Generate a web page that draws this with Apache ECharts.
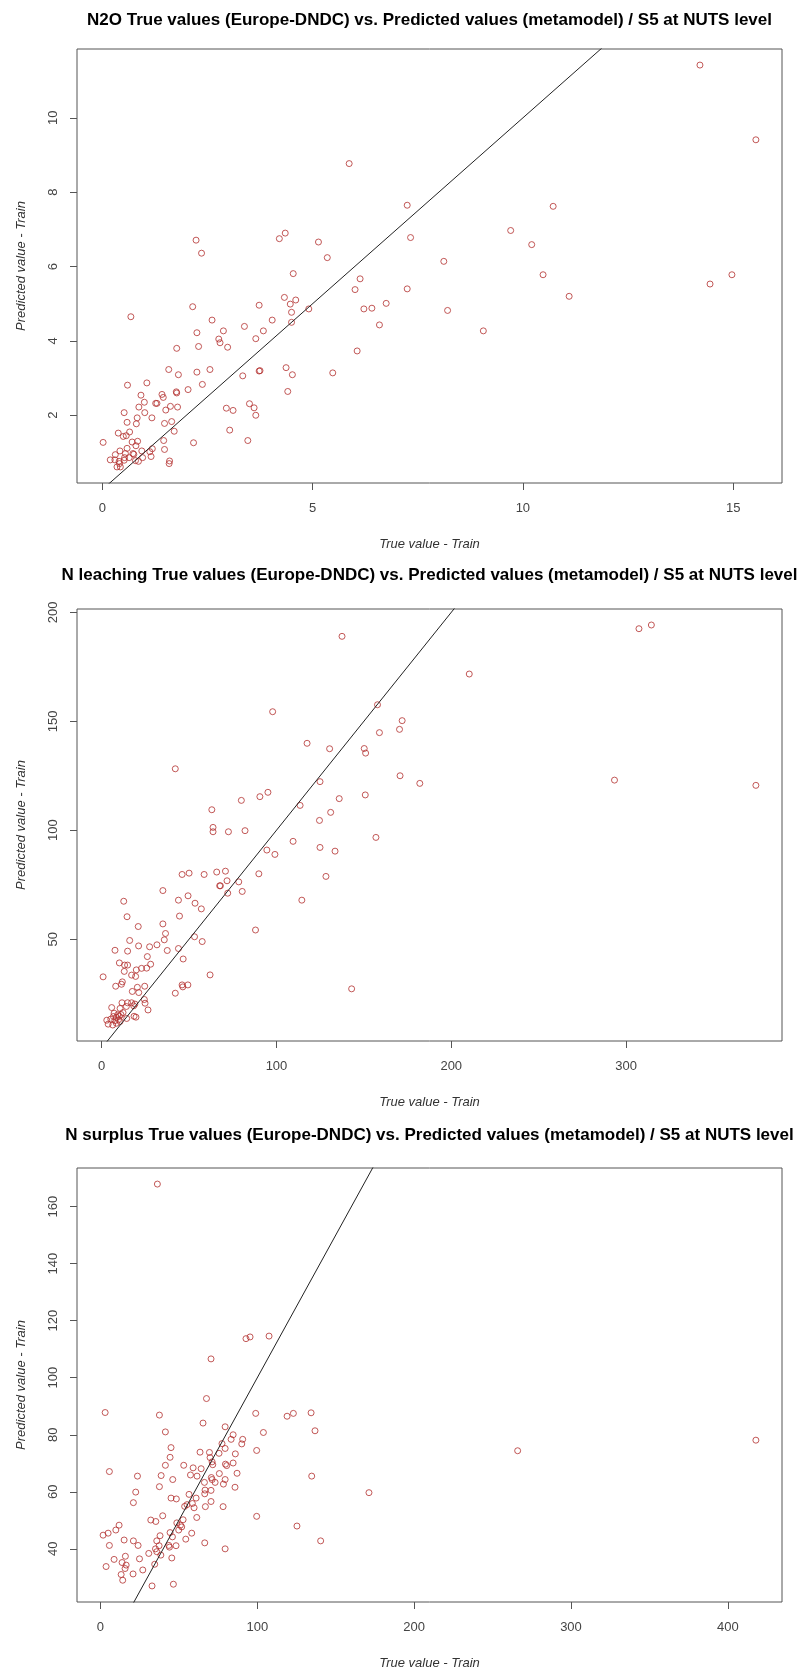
<!DOCTYPE html>
<html>
<head>
<meta charset="utf-8">
<script src="https://cdn.jsdelivr.net/npm/echarts@6/dist/echarts.min.js"></script>
<style>
  html, body { margin: 0; padding: 0; background: #fff; }
  #chart { width: 798px; height: 1673px; }
</style>
</head>
<body>
<div id="chart"></div>
<script>
// ---- Titles and axis names ----
const panelTitles = [
  'N2O True values (Europe-DNDC) vs. Predicted values (metamodel) / S5 at NUTS level',
  'N leaching True values (Europe-DNDC) vs. Predicted values (metamodel) / S5 at NUTS level',
  'N surplus True values (Europe-DNDC) vs. Predicted values (metamodel) / S5 at NUTS level'
];
const xAxisName = 'True value - Train';
const yAxisName = 'Predicted value - Train';

// ---- Tick labels ----
const n2oXTicks = [0, 5, 10, 15];
const n2oYTicks = [2, 4, 6, 8, 10];
const leachXTicks = [0, 100, 200, 300];
const leachYTicks = [50, 100, 150, 200];
const surplusXTicks = [0, 100, 200, 300, 400];
const surplusYTicks = [40, 60, 80, 100, 120, 140, 160];

// ---- N2O: true (Europe-DNDC) and predicted (metamodel) ----
const n2oTrue = [
  2.23, 2.36, 4.21, 4.35, 5.14, 5.35, 5.87, 7.25, 7.33,
  4.54, 6.13, 6.01, 7.25, 4.33, 4.47, 4.60, 3.73, 2.15, 4.91, 6.22, 6.41, 6.75, 4.50, 0.68,
  2.61, 4.04, 4.50, 6.59, 3.38, 2.88, 2.25, 3.83, 2.77, 3.65, 2.80, 2.29, 2.98, 1.77, 6.06,
  1.58, 2.56, 2.25, 1.81, 3.34, 3.73, 3.75, 4.37, 4.52, 5.48, 0.60, 1.06, 2.38, 0.92, 1.42,
  1.76, 1.77, 2.04, 1.45, 1.00, 1.27, 1.30, 0.87, 1.62, 1.79, 1.51, 0.52, 1.01, 0.83, 1.18,
  2.95, 3.11, 3.50, 3.61, 3.65, 4.41, 0.59, 0.81, 1.48, 1.65, 0.38, 0.57, 0.65, 0.50, 1.71,
  3.03, 0.02, 0.71, 0.84, 1.46, 2.17, 3.46, 0.80, 0.59, 0.42, 0.94, 1.19, 1.13, 1.48, 0.31,
  0.55, 0.73, 0.75, 0.19, 0.30, 0.40, 0.52, 0.53, 0.79, 0.96, 1.16, 0.35, 0.43, 0.41, 0.64,
  1.60, 1.59, 0.86,
  14.21, 15.54, 10.72, 9.71, 10.21, 8.12, 10.48, 14.45, 14.97, 11.10, 8.21, 9.06
];
const n2oPred = [
  6.71, 6.36, 6.75, 6.90, 6.66, 6.24, 8.77, 7.65, 6.78,
  5.81, 5.67, 5.38, 5.40, 5.17, 4.99, 5.10, 4.96, 4.92, 4.86, 4.86, 4.88, 5.01, 4.77, 4.65,
  4.56, 4.56, 4.50, 4.43, 4.39, 4.27, 4.22, 4.27, 4.05, 4.06, 3.95, 3.85, 3.83, 3.80, 3.73,
  3.23, 3.23, 3.16, 3.09, 3.06, 3.19, 3.20, 3.28, 3.09, 3.14, 2.81, 2.87, 2.83, 2.54, 2.56,
  2.63, 2.60, 2.69, 2.48, 2.35, 2.32, 2.32, 2.22, 2.24, 2.22, 2.14, 2.07, 2.07, 1.93, 1.93,
  2.19, 2.13, 2.31, 2.20, 2.00, 2.64, 1.81, 1.77, 1.78, 1.83, 1.52, 1.45, 1.55, 1.43, 1.57,
  1.60, 1.27, 1.28, 1.30, 1.32, 1.26, 1.32, 1.18, 1.11, 1.04, 1.04, 1.10, 1.02, 1.08, 0.94,
  0.97, 0.97, 0.95, 0.80, 0.80, 0.76, 0.79, 0.86, 0.78, 0.86, 0.89, 0.61, 0.61, 0.70, 0.86,
  0.77, 0.70, 0.76,
  11.42, 9.41, 7.62, 6.97, 6.59, 6.14, 5.78, 5.53, 5.78, 5.20, 4.82, 4.27
];

// ---- N leaching: true and predicted ----
const leachTrue = [
  137.5, 97.8, 157.8, 171.9, 170.4, 158.9, 117.5, 130.4, 150.2, 151.0,
  170.7, 42.1, 124.9, 79.9, 90.5, 95.1, 135.9, 150.8, 113.5, 63.0, 63.7, 63.7, 72.5, 82.0,
  131.0, 124.6, 109.5, 94.5, 99.1, 124.9, 133.5, 156.9, 128.3, 50.0, 46.0, 58.6, 65.8, 70.8,
  89.9, 71.7, 78.4, 67.5, 67.9, 80.4, 72.1, 35.0, 12.6, 43.9, 49.4, 53.4, 57.0, 114.5, 14.5,
  44.5, 20.9, 35.0, 36.5, 35.8, 53.1, 57.5, 88.0, 16.0, 7.6, 14.8, 21.1, 27.4, 31.6, 37.5,
  43.9, 26.1, 46.6, 10.1, 14.8, 13.1, 28.0, 25.7, 22.8, 12.9, 19.8, 17.1, 19.4, 0.8, 62.0,
  11.8, 8.0, 11.3, 24.6, 46.0, 49.3, 46.4, 20.4, 17.5, 21.2, 24.4, 24.8, 42.1, 143.0, 11.6,
  14.8, 17.1, 19.0, 14.1, 18.3, 26.5, 5.7, 10.5, 12.2, 7.1, 9.2, 10.1, 8.4, 11.0, 18.5,
  19.6, 14.3, 2.9, 5.2, 7.5, 9.6, 3.7, 6.3, 8.4, 10.5, 6.7,
  307.4, 314.5, 210.3, 182.0, 293.4, 374.3
];
const leachPred = [
  189.0, 154.4, 157.6, 150.3, 146.3, 144.8, 139.9, 137.4, 137.5, 135.4,
  125.0, 128.2, 122.3, 113.7, 115.4, 117.4, 114.5, 116.2, 111.4, 109.4, 101.3, 99.3, 99.3, 99.8,
  108.2, 104.5, 94.9, 90.9, 88.9, 92.1, 90.4, 96.7, 78.8, 80.3, 79.7, 79.7, 80.8, 81.2,
  80.0, 76.8, 76.3, 74.5, 74.5, 71.9, 71.1, 72.3, 67.4, 67.9, 69.9, 66.5, 63.9, 67.9, 60.3,
  60.6, 55.8, 57.0, 52.6, 49.7, 51.1, 48.9, 54.2, 49.4, 44.9, 44.5, 46.9, 46.5, 47.4, 44.8,
  45.7, 42.0, 40.9, 39.1, 38.1, 38.1, 38.5, 36.7, 36.6, 35.2, 35.9, 33.5, 32.9, 32.7, 33.6,
  30.4, 28.4, 29.3, 28.4, 29.0, 29.0, 28.1, 27.9, 26.0, 25.5, 22.3, 20.6, 25.2, 27.2, 20.8,
  20.8, 20.8, 20.2, 19.1, 19.4, 17.5, 18.6, 18.2, 16.3, 16.0, 15.3, 14.6, 14.2, 15.4, 14.6,
  14.2, 13.6, 12.8, 13.3, 12.6, 13.0, 11.0, 10.6, 11.4, 12.2, 14.5,
  192.5, 194.2, 171.7, 121.5, 123.0, 120.6
];

// ---- N surplus: true and predicted ----
const surplusTrue = [
  36.3, 107.5, 92.8, 95.4, 70.5, 67.6, 3.0, 37.6, 99.0, 119.0, 123.0, 134.3, 65.4, 79.5,
  136.8, 41.4, 103.9, 84.6, 90.7, 83.3, 77.5, 90.1, 45.0, 79.5, 99.6, 63.5, 69.5, 75.6, 86.0,
  44.4, 69.9, 71.2, 84.6, 79.7, 71.6, 41.4, 53.1, 80.5, 59.1, 64.2, 5.7, 87.1, 75.8, 23.6,
  38.7, 57.4, 61.6, 70.7, 134.7, 71.2, 46.1, 66.3, 73.1, 78.4, 79.5, 37.6, 85.8, 66.7, 70.5,
  22.5, 171.2, 66.5, 56.5, 61.0, 45.0, 48.4, 70.5, 21.0, 58.6, 55.2, 53.7, 59.7, 66.9, 78.2,
  39.7, 61.4, 99.6, 32.1, 35.3, 52.7, 48.7, 11.9, 51.0, 51.8, 125.3, 9.8, 1.7, 4.9, 49.9,
  58.2, 44.4, 38.0, 45.9, 54.4, 15.1, 21.0, 35.9, 140.4, 5.7, 24.0, 37.4, 43.6, 44.0, 48.2,
  66.5, 79.5, 35.1, 35.9, 38.5, 8.7, 15.9, 24.9, 30.8, 45.5, 13.8, 16.4, 3.6, 15.7, 34.6,
  27.0, 20.8, 13.2, 14.2, 32.9, 46.5, 266.0, 417.9
];
const surplusPred = [
  167.9, 114.6, 113.7, 114.3, 106.6, 92.7, 87.8, 86.9, 87.5, 86.5, 87.5, 87.7, 84.1, 82.8,
  81.4, 81.0, 80.8, 80.0, 78.4, 78.4, 76.9, 76.8, 75.5, 75.2, 74.5, 73.9, 73.8, 73.5, 73.3,
  72.1, 72.0, 70.5, 70.1, 69.7, 69.5, 69.3, 69.3, 69.2, 68.4, 68.1, 67.1, 66.5, 66.4, 65.5,
  65.7, 65.9, 65.5, 65.0, 65.5, 64.3, 64.3, 63.3, 63.3, 62.7, 64.3, 61.8, 61.6, 60.6, 60.5,
  59.9, 59.7, 59.3, 59.1, 57.8, 57.8, 57.5, 56.6, 56.2, 55.9, 55.5, 54.9, 54.4, 54.8, 54.8,
  51.6, 51.0, 51.4, 50.1, 49.6, 50.2, 49.1, 48.3, 48.3, 47.7, 48.0, 46.6, 44.8, 45.5, 46.6,
  45.5, 45.7, 44.6, 44.2, 43.4, 43.1, 42.8, 42.8, 42.8, 41.2, 41.2, 41.1, 41.2, 40.6, 41.1,
  42.1, 40.0, 40.0, 39.0, 37.8, 36.3, 37.4, 36.5, 38.4, 36.8, 35.2, 34.3, 33.8, 33.1, 34.6,
  32.6, 31.2, 31.0, 29.0, 27.0, 27.6, 74.4, 78.1
];

// ---- Layout of the three stacked panels (pixels) ----
const plotLeft = 77;
const plotWidth = 705;
const panels = [
  { title: panelTitles[0], xs: n2oTrue, ys: n2oPred, xTicks: n2oXTicks, yTicks: n2oYTicks, top: 49, height: 434, titleY: 20 },
  { title: panelTitles[1], xs: leachTrue, ys: leachPred, xTicks: leachXTicks, yTicks: leachYTicks, top: 609, height: 432, titleY: 575 },
  { title: panelTitles[2], xs: surplusTrue, ys: surplusPred, xTicks: surplusXTicks, yTicks: surplusYTicks, top: 1168, height: 434, titleY: 1135 }
];

// Axis range padded by 4% on each side, like base R graphics
function paddedRange(values) {
  const lo = Math.min(...values), hi = Math.max(...values);
  const pad = (hi - lo) * 0.04;
  return [lo - pad, hi + pad];
}

const FONT = '"Liberation Sans", Arial, sans-serif';
const pointColor = '#b3302e';
const frameColor = '#555';

const grids = [], xAxes = [], yAxes = [], series = [], graphics = [];

panels.forEach((p, i) => {
  const [xMin, xMax] = paddedRange(p.xs);
  const [yMin, yMax] = paddedRange(p.ys);

  grids.push({
    left: plotLeft, width: plotWidth, top: p.top, height: p.height,
    show: true, borderColor: frameColor, borderWidth: 1, backgroundColor: 'transparent'
  });

  xAxes.push({
    type: 'value', gridIndex: i, min: xMin, max: xMax,
    axisLine: { show: false, onZero: false },
    splitLine: { show: false },
    axisTick: { show: true, customValues: p.xTicks, length: 7, lineStyle: { color: frameColor } },
    axisLabel: { customValues: p.xTicks, margin: 19, color: '#444', fontSize: 13, fontFamily: FONT },
    name: xAxisName, nameLocation: 'middle', nameGap: 55,
    nameTextStyle: { fontStyle: 'italic', fontSize: 13, color: '#333', fontFamily: FONT }
  });

  yAxes.push({
    type: 'value', gridIndex: i, min: yMin, max: yMax,
    axisLine: { show: false, onZero: false },
    splitLine: { show: false },
    axisTick: { show: true, customValues: p.yTicks, length: 7, lineStyle: { color: frameColor } },
    axisLabel: { customValues: p.yTicks, rotate: 90, margin: 17, color: '#444', fontSize: 13, fontFamily: FONT },
    name: yAxisName, nameLocation: 'middle', nameGap: 49, nameRotate: 90,
    nameTextStyle: { fontStyle: 'italic', fontSize: 13, color: '#333', fontFamily: FONT }
  });

  // Observed vs. predicted points as open circles
  series.push({
    type: 'scatter', xAxisIndex: i, yAxisIndex: i,
    data: p.xs.map((x, k) => [x, p.ys[k]]),
    symbol: 'circle', symbolSize: 6,
    itemStyle: { color: 'rgba(0,0,0,0)', borderColor: pointColor, borderWidth: 1 },
    silent: true
  });

  // 1:1 reference line across the full axis range
  const lo = Math.min(xMin, yMin), hi = Math.max(xMax, yMax);
  series.push({
    type: 'line', xAxisIndex: i, yAxisIndex: i,
    data: [[lo, lo], [hi, hi]],
    symbol: 'none', clip: true, silent: true,
    lineStyle: { color: '#222', width: 1 }
  });

  graphics.push({
    type: 'text', x: plotLeft + plotWidth / 2, y: p.titleY,
    style: {
      text: p.title, fill: '#000', fontSize: 17, fontWeight: 'bold', fontFamily: FONT,
      align: 'center', verticalAlign: 'middle'
    }
  });
});

const chart = echarts.init(document.getElementById('chart'), null, { renderer: 'canvas' });
chart.setOption({
  animation: false,
  backgroundColor: '#fff',
  grid: grids,
  xAxis: xAxes,
  yAxis: yAxes,
  series: series,
  graphic: graphics
});
</script>
</body>
</html>
